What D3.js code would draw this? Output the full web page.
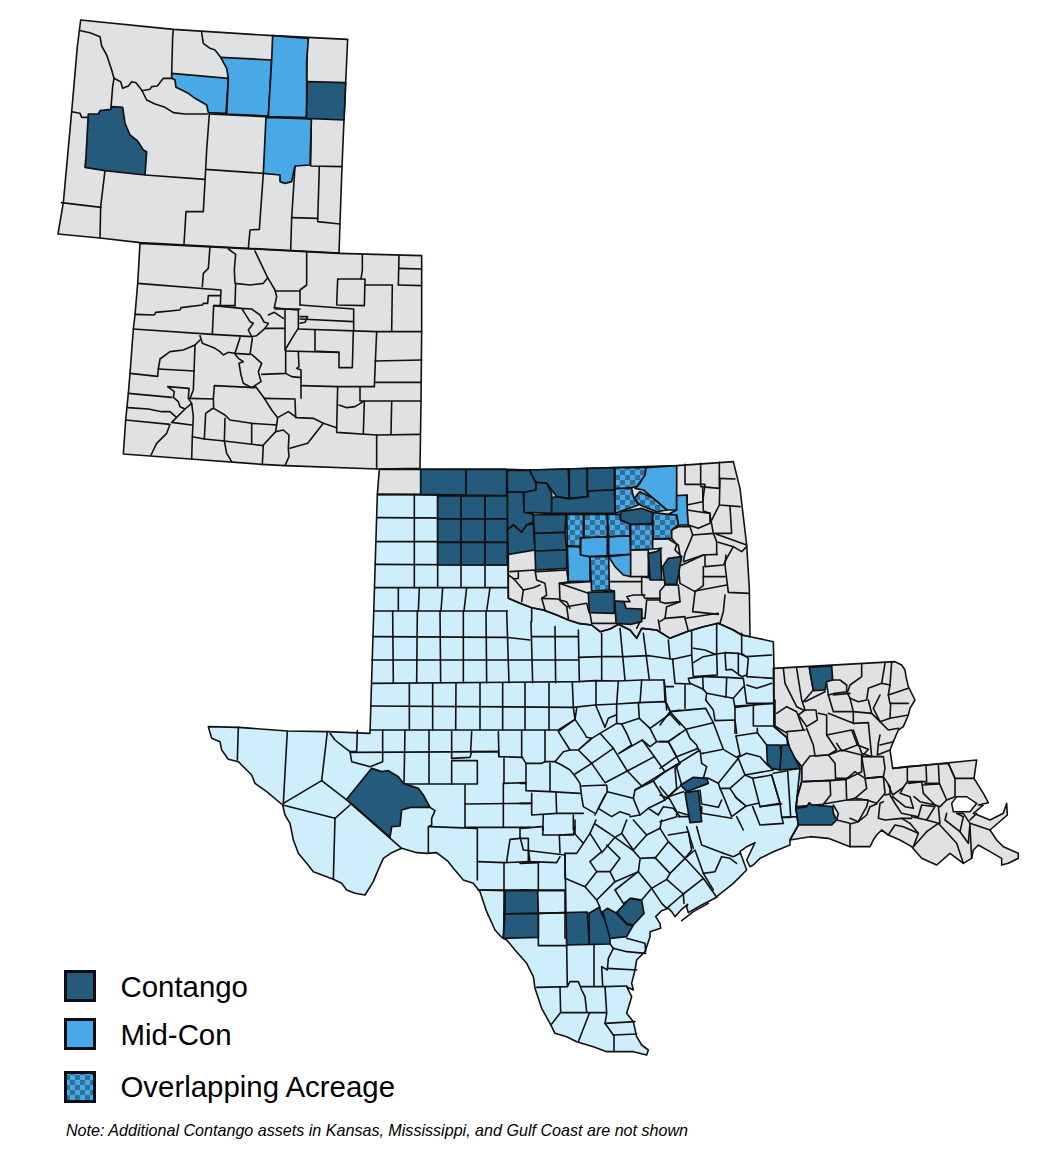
<!DOCTYPE html>
<html>
<head>
<meta charset="utf-8">
<title>Contango and Mid-Con acreage map</title>
<script src="https://cdn.jsdelivr.net/npm/d3@7"></script>
<style>
html, body { margin: 0; padding: 0; background: #fff; }
svg { display: block; }
text { font-family: "Liberation Sans", Arial, sans-serif; fill: #000; }
</style>
</head>
<body>
<svg id="map"></svg>
<script>
var canvas_width = 1048;
var canvas_height = 1152;

// every traced sheet has its own origin, points are in 1/3 pixel units
var sheet_origin = {
    wy: [50, 10], co: [115, 235], ok: [370, 455], nt: [360, 620],
    wt: [200, 720], et: [520, 720], st: [470, 880], la: [770, 650],
    c1: [520, 700], c2: [660, 700], c3: [560, 820]
};

var legend_labels = ["Contango", "Mid-Con", "Overlapping Acreage"];
var legend_keys = ["contango", "midcon", "overlap"];
var note_text = "Note: Additional Contango assets in Kansas, Mississippi, and Gulf Coast are not shown";

var colour = {
    state: "#e0e1e3", texas: "#cfeefc",
    contango: "#245b7c", midcon: "#49a9e6", overlap: "url(#checker)"
};

var wyoming_outline = [["wy", [[92,30],[370,58],[668,77],[893,88],[887,218],[882,330],[876,470],[870,640],[867,729],[270,698],[150,684],[24,672],[40,578],[65,305],[82,110]]]];
var colorado_outline = [["co", [[75,25],[672,55],[920,62],[920,290],[918,500],[915,700],[785,702],[510,692],[440,688],[225,672],[25,657],[32,555],[40,475],[45,415],[55,282],[60,240],[68,145]]]];
var oklahoma_outline = [["ok", [[28,43],[152,43],[410,43],[480,45],[590,42],[735,38],[920,32],[1090,20],[1110,100],[1130,270],[1138,400],[1140,545],[1115,540],[1090,525],[1045,505],[1000,515],[950,530],[900,550],[860,525],[815,520],[800,550],[780,525],[745,508],[720,522],[690,530],[665,510],[625,505],[595,495],[560,480],[520,465],[485,458],[450,445],[415,430],[415,295],[412,122],[152,118],[22,118]]]];
var texas_outline = [
    ["ok", [[22,118],[412,122],[415,430],[450,445],[485,458],[520,465],[560,480],[595,495],[625,505],[665,510],[690,530],[720,522],[745,508],[780,525],[800,550],[815,520],[860,525],[900,550],[950,530],[1000,515],[1045,505],[1090,525],[1115,540],[1140,545]]],
    ["la", [[10,-25],[12,55],[12,230],[50,262],[55,280],[62,310],[95,350],[95,395],[82,440],[78,475],[85,525],[60,570]]],
    ["et", [[810,375],[760,395],[720,415],[700,435],[690,440],[680,420],[705,368],[680,380],[660,395],[680,450],[640,490],[590,530]]],
    ["c3", [[470,232],[425,255],[385,278],[380,262],[383,253],[365,268],[345,290],[335,275],[325,265],[305,272],[287,290],[300,310],[302,325],[270,335]]],
    ["st", [[540,170],[525,215],[500,240],[495,270],[485,310],[490,330],[470,320],[485,350],[470,400],[490,425],[500,470],[515,495],[535,510],[530,525],[490,515],[460,515],[410,515],[370,500],[320,485],[290,470],[255,460],[240,430],[215,385],[195,325],[190,290],[170,250],[135,210],[110,180],[95,172]]],
    ["wt", [[885,630],[860,575],[840,515],[820,490],[790,480],[760,445],[745,425],[710,398],[680,400],[650,398],[605,385],[575,398],[550,415],[530,460],[520,485],[495,525],[465,520],[440,510],[425,490],[400,478],[340,455],[320,430],[295,400],[280,360],[270,310],[255,285],[248,255],[200,215],[165,190],[155,165],[115,125],[85,118],[65,90],[60,65],[35,55],[25,20],[115,22],[262,33],[382,35],[510,40]]]
];
var louisiana_outline = [["la", [[10,55],[375,35],[395,45],[405,60],[408,80],[415,110],[435,150],[420,175],[415,195],[400,230],[385,240],[370,275],[360,300],[368,355],[620,330],[612,385],[640,430],[655,458],[625,465],[640,465],[610,490],[660,510],[700,490],[710,460],[712,495],[660,540],[680,570],[700,590],[745,610],[745,625],[715,640],[695,645],[695,625],[660,605],[625,585],[610,600],[605,625],[580,640],[540,610],[500,645],[455,625],[425,590],[390,570],[355,555],[335,540],[320,555],[310,570],[300,590],[240,590],[175,565],[120,560],[60,570],[85,525],[78,475],[82,440],[95,395],[95,350],[62,310],[55,280],[50,262],[12,230]]]];
var lake_outline = [["la", [[545,460],[560,440],[590,440],[620,460],[600,485],[550,485]]]];

var wyoming_borders = [[[92,62],[120,68],[150,80],[155,108],[170,135],[185,180],[192,205],[188,230],[183,292]],[[192,205],[212,215],[218,235],[235,228],[245,215],[258,218],[275,240],[290,270],[315,282],[345,292],[370,308],[405,312],[472,312]],[[65,305],[90,310],[95,322],[115,322]],[[370,58],[368,80],[365,190]],[[275,242],[300,238],[305,230],[322,228],[340,205],[365,205]],[[455,68],[460,100],[480,115],[495,120],[512,142]],[[784,327],[782,468],[876,470]],[[478,312],[470,420],[467,478],[640,490]],[[467,478],[460,605],[408,605],[402,702]],[[285,495],[465,508]],[[165,482],[152,590],[150,684]],[[34,578],[153,592]],[[640,490],[628,658],[600,660],[595,715]],[[735,468],[725,625],[722,720]],[[808,470],[803,635],[870,642]],[[725,623],[803,625]],[[478,312],[648,320]],[[772,85],[770,215]]];

var colorado_borders = [[[285,35],[280,100],[265,115],[262,155]],[[68,145],[318,165],[316,210]],[[340,42],[362,58],[358,105],[360,145],[405,150],[445,145],[458,128],[480,165],[485,185],[478,218]],[[420,48],[435,80],[458,128]],[[362,145],[360,212]],[[575,52],[575,150],[555,165],[555,210]],[[480,168],[555,168]],[[742,58],[742,105],[738,132]],[[852,62],[850,150]],[[852,100],[920,102]],[[668,132],[750,132],[748,212],[665,210],[668,132]],[[750,150],[832,150],[830,288]],[[850,150],[920,152]],[[555,210],[716,222],[716,288]],[[480,222],[555,222]],[[60,238],[118,240],[122,232],[195,225],[198,218],[262,210],[265,205],[278,205],[280,182],[316,182]],[[55,282],[292,298],[296,212],[380,220],[405,260],[415,265],[400,285],[410,305],[425,302],[450,280],[460,265],[448,262],[435,240],[410,222],[380,220]],[[296,212],[360,212]],[[478,218],[510,222]],[[460,240],[478,232],[505,250]],[[510,222],[510,345],[540,295],[550,280],[550,225],[510,222]],[[555,245],[578,245],[570,262],[555,265]],[[555,252],[715,260]],[[550,282],[785,290],[782,358],[778,455]],[[600,285],[600,348],[672,352],[672,398],[712,398],[715,288]],[[512,348],[672,352]],[[450,280],[510,280]],[[255,302],[262,325],[300,340],[315,350],[325,360],[340,352],[358,355],[405,358],[412,310]],[[292,298],[410,305]],[[375,308],[360,355]],[[410,358],[440,385],[430,410],[438,440],[410,458],[385,445],[378,420],[372,385],[385,380],[370,370],[358,355]],[[512,345],[512,415],[440,418]],[[512,415],[530,425],[558,428]],[[550,352],[552,395],[545,400],[558,405],[558,490]],[[420,452],[448,490],[470,525],[488,548],[520,530],[545,548],[595,550],[625,565],[665,578],[665,592],[785,600],[785,702]],[[558,452],[668,455],[665,578]],[[668,455],[778,455]],[[780,378],[920,375]],[[780,442],[918,442]],[[735,458],[735,498],[918,498]],[[672,510],[695,518],[720,515],[745,500]],[[748,500],[745,595]],[[830,500],[828,597]],[[785,600],[915,598]],[[785,290],[920,290]],[[448,490],[540,492],[542,548]],[[625,565],[578,625],[525,640]],[[488,548],[482,590],[445,630],[442,688]],[[482,590],[505,585],[522,600],[520,640],[522,665],[510,692]],[[255,315],[240,330],[205,345],[165,350],[135,372],[130,402],[128,424],[45,415]],[[240,330],[235,465],[225,490]],[[130,402],[238,408]],[[40,475],[170,487]],[[158,455],[222,460],[220,490],[230,505],[210,522],[195,515],[190,500],[175,487],[178,470],[158,455]],[[222,490],[295,492],[298,452],[420,458]],[[295,492],[296,520],[330,540],[345,555],[410,565],[485,570]],[[38,518],[100,522],[140,530],[165,530],[182,545]],[[32,555],[165,568],[155,595],[125,625],[108,660]],[[210,522],[170,562],[230,570]],[[230,505],[235,545],[232,605],[230,672]],[[232,605],[268,612],[272,535],[290,522],[296,520]],[[268,612],[328,618],[330,550]],[[328,618],[335,655],[350,680]],[[328,618],[445,632]],[[410,565],[410,625]]];

var oklahoma_borders = [[[945,28],[945,88],[1005,88],[998,140],[950,150],[952,120]],[[992,25],[992,95],[1048,100],[1048,22]],[[1048,70],[1095,72]],[[1050,72],[1048,150],[1110,155]],[[998,100],[1000,168],[1020,175],[1020,200]],[[952,165],[985,170],[1020,175]],[[955,210],[985,220],[1020,205],[1048,150]],[[1020,180],[1030,235],[1085,235],[1080,155]],[[905,225],[925,215],[960,215],[968,240],[1030,235],[1040,260],[1040,300]],[[905,250],[920,268],[915,285],[935,305]],[[968,240],[960,260],[945,295],[940,320],[1000,300],[1042,298]],[[1040,238],[1130,270]],[[1045,262],[1090,275],[1115,290],[1130,275]],[[1090,275],[1070,310],[1060,330],[1005,335],[1005,300]],[[1000,335],[1000,392],[975,410],[930,385],[925,335],[1000,300]],[[1068,300],[1065,330],[1075,412],[1138,415]],[[1000,365],[1065,365]],[[975,412],[968,470],[1045,478]],[[975,408],[1070,390]],[[1065,420],[1060,470],[1050,505]],[[945,490],[1045,475]],[[945,490],[955,528]],[[885,390],[925,390],[930,440],[885,445],[870,440],[870,408],[885,390]],[[930,440],[890,455],[885,490],[870,500]],[[870,435],[830,435],[825,490],[815,490]],[[885,490],[945,485]],[[865,495],[870,525]],[[815,365],[880,375]],[[870,430],[825,430],[815,415],[815,365]],[[720,380],[815,380]],[[784,285],[835,285],[835,365],[784,365]],[[848,252],[895,252],[925,270],[930,300]],[[850,282],[875,280]],[[720,405],[733,408],[733,440],[780,440],[770,425],[790,420],[825,420]],[[815,462],[815,490],[800,520]],[[655,415],[568,385],[570,435],[590,440],[600,460]],[[568,385],[660,380]],[[590,455],[650,445],[657,470]],[[660,475],[665,505],[735,505]],[[420,350],[495,345],[500,375],[525,385],[530,420],[515,430],[525,465]],[[415,360],[430,370],[460,405],[490,398],[510,390]],[[430,372],[445,370],[445,350]],[[460,405],[455,440]],[[500,350],[590,345],[595,380],[570,385]],[[515,430],[565,432],[590,455],[595,490]]];

var texas_borders_ok = [[[22,188],[412,190]],[[20,260],[415,260]],[[16,328],[415,330]],[[15,398],[415,398]],[[13,468],[412,468]],[[133,118],[133,398]],[[203,118],[203,398]],[[273,118],[273,398]],[[345,118],[345,398]],[[85,398],[85,468]],[[148,398],[145,468]],[[218,398],[213,468]],[[290,398],[282,468]],[[360,398],[350,468]],[[485,458],[485,500]]];

var texas_borders_nt = [[[40,50],[440,52],[510,60]],[[515,50],[655,50]],[[36,120],[655,120]],[[655,112],[725,110],[795,110],[868,107],[938,118]],[[36,190],[655,185],[705,182],[775,183],[845,180],[912,180]],[[98,-27],[100,188]],[[172,-27],[170,188]],[[240,-27],[242,188]],[[310,-27],[310,188]],[[378,-27],[380,188]],[[440,-27],[447,188]],[[513,5],[518,188]],[[585,20],[587,188]],[[655,30],[658,185]],[[725,40],[725,180]],[[780,25],[795,180]],[[850,40],[868,180]],[[148,190],[148,330]],[[218,190],[218,330]],[[288,190],[287,330]],[[360,190],[360,330]],[[428,190],[428,330]],[[495,190],[495,330]],[[567,190],[567,330]],[[637,188],[640,262]],[[708,182],[708,258]],[[775,183],[770,252]],[[845,180],[840,248]],[[912,180],[915,245]],[[32,258],[640,262],[705,255],[770,252],[835,248],[915,245],[930,272]],[[30,330],[595,330],[645,298],[640,262]],[[925,60],[930,115]],[[938,118],[995,105],[1000,170],[1070,165]],[[995,35],[995,105]],[[1070,10],[1070,100],[1072,165]],[[1000,85],[1035,90],[1065,103],[1095,98],[1135,100],[1160,110],[1235,105]],[[1000,128],[1030,110],[1068,103]],[[1095,98],[1098,150],[1115,148],[1145,170],[1160,165]],[[1145,40],[1145,100],[1165,115],[1160,170],[1240,175]],[[1135,100],[1135,165]],[[938,118],[945,190],[990,192],[985,175],[1028,170],[1030,210]],[[912,180],[915,200],[940,200]],[[915,202],[920,270]],[[975,195],[975,265]],[[990,190],[1030,208],[1040,220],[1095,230]],[[1030,170],[1100,172],[1098,230]],[[1100,172],[1150,175],[1160,250],[1240,250]],[[1150,200],[1120,235],[1095,230]],[[1160,195],[1190,205],[1235,190]],[[1040,220],[1037,240]],[[1120,235],[1125,262],[1185,255]]];

var texas_borders_wt = [[[115,22],[112,120]],[[262,33],[250,250]],[[382,35],[365,182],[250,250]],[[365,182],[438,238]],[[248,255],[405,295],[450,255]],[[405,295],[400,478]],[[438,238],[605,385]],[[612,192],[830,192]],[[795,195],[795,322]],[[832,192],[832,122],[755,122],[755,192]],[[755,115],[810,112],[815,95],[895,95],[897,110],[968,112]],[[390,40],[405,60],[430,80],[450,95],[470,95],[472,32]],[[450,95],[455,125],[510,140],[548,125],[548,30]],[[450,97],[895,95]],[[615,30],[612,190]],[[687,30],[687,190]],[[755,35],[755,115]],[[815,35],[812,95]],[[895,35],[897,110]],[[912,115],[912,190],[975,188]],[[795,252],[990,250]],[[795,322],[990,322]],[[910,190],[910,322]],[[690,262],[705,272],[695,295],[695,315],[685,320],[685,400]],[[688,320],[832,325],[832,480]],[[832,425],[912,428],[912,510]],[[912,428],[990,425]],[[960,325],[960,355],[930,358],[920,425]],[[960,355],[985,355],[985,425]],[[835,510],[990,510]],[[912,510],[912,630]],[[912,582],[990,582]]];

// squares between the west block and the central counties
var texas_borders_et = [[[70,320],[68,345],[160,345],[165,320]],[[0,325],[65,320]],[[0,350],[10,390],[135,405]],[[118,345],[120,398]],[[25,388],[30,425],[110,428],[120,410]],[[0,430],[55,428]],[[55,428],[55,510],[135,510]],[[0,510],[55,510]],[[55,580],[138,578]],[[55,580],[55,655]],[[135,578],[135,655]],[[135,405],[138,578]]];

var texas_borders_c1 = [[[115,95],[165,58],[190,95],[200,112],[215,115],[175,150],[150,150],[115,95]],[[5,92],[5,170],[18,190],[40,190],[65,190],[75,185],[75,92]],[[75,185],[105,185],[130,155],[150,150]],[[175,150],[215,115],[240,100],[280,145],[215,190],[175,150]],[[240,100],[290,70],[305,72],[320,100],[335,135],[297,160]],[[297,160],[367,120],[403,170],[322,213],[280,145]],[[215,190],[255,248],[322,213]],[[165,222],[215,190]],[[105,185],[125,195],[150,210],[165,228],[180,250],[185,290],[190,320],[225,340]],[[18,190],[18,272],[90,275],[90,190]],[[90,275],[180,280]],[[35,280],[35,345],[110,340],[108,280]],[[110,340],[190,340]],[[70,345],[68,390]],[[160,345],[160,390]],[[185,258],[260,255],[262,275],[235,325],[225,345]],[[262,275],[340,295],[360,345],[330,350]],[[255,285],[235,325],[275,350],[300,335],[330,345]],[[340,295],[345,270],[400,243],[435,300],[385,325],[360,345]],[[322,213],[365,258],[345,270]],[[365,258],[435,215],[403,170]],[[400,243],[435,215]],[[367,120],[390,140],[410,125],[445,125],[480,190],[435,215]],[[305,72],[358,55],[390,85],[410,125]],[[390,85],[450,42],[480,75]],[[445,125],[480,100]],[[435,300],[470,265],[465,205],[480,190]],[[385,325],[415,345],[430,320],[460,325],[480,350]],[[228,18],[255,82],[265,55],[288,45]],[[290,12],[290,70]],[[355,8],[358,55]],[[440,10],[450,35],[480,30]],[[450,35],[450,42]],[[0,250],[18,250]],[[0,310],[35,310]],[[170,25],[165,58]]];

var texas_borders_c2 = [[[30,35],[137,25],[160,68],[78,88],[30,35]],[[137,0],[160,30],[165,62],[225,60],[230,100]],[[225,18],[225,100]],[[225,18],[280,15],[340,10]],[[0,75],[30,35]],[[78,88],[90,115],[110,135],[115,150]],[[160,68],[190,148],[130,160]],[[190,148],[230,172],[240,165],[228,108]],[[0,125],[25,125],[78,88]],[[25,125],[50,170],[115,145]],[[50,170],[0,205]],[[48,195],[120,150],[125,190],[140,200],[130,235],[145,235]],[[48,195],[65,255]],[[125,160],[130,160]],[[145,235],[175,250],[235,175]],[[228,108],[292,98],[320,135]],[[235,172],[260,160],[300,170],[322,195],[340,210],[255,225],[235,175]],[[280,15],[280,78],[345,78],[382,100],[382,135]],[[292,85],[292,98]],[[345,0],[345,78]],[[255,225],[210,265],[230,295],[258,318]],[[175,250],[180,265],[210,265]],[[278,235],[335,225],[360,310],[300,320],[278,235]],[[335,225],[360,310],[365,352],[392,352]],[[340,220],[383,212],[392,350]],[[388,210],[420,205],[408,320],[412,350],[365,352]],[[255,225],[278,235]],[[295,310],[258,318],[225,290]],[[300,320],[365,312]],[[278,320],[300,375],[370,370],[365,350]],[[258,318],[215,350],[195,300],[180,265]],[[120,270],[125,312],[175,322],[185,300]],[[125,320],[125,340],[215,355]],[[230,350],[250,390]],[[0,225],[48,195]],[[65,255],[25,290],[0,260]],[[25,290],[70,275]],[[25,290],[50,335],[85,345]],[[0,285],[25,295]],[[50,340],[50,350],[0,365]],[[85,350],[55,350]]];

var texas_borders_c3 = [[[0,45],[45,42],[45,0]],[[15,100],[50,100],[70,70],[90,40],[108,0]],[[45,42],[70,70]],[[90,40],[125,95],[90,125]],[[125,98],[165,52],[220,92]],[[105,12],[165,52],[185,40],[200,0]],[[185,40],[220,90],[260,45],[220,0]],[[260,45],[300,25],[325,65],[285,115]],[[300,25],[305,0]],[[220,92],[240,115],[285,113],[330,160],[320,178],[275,205],[235,155],[240,118]],[[90,125],[110,155],[150,155],[180,115],[140,75]],[[15,100],[15,175],[75,200],[110,155]],[[75,200],[110,240],[165,185],[150,155]],[[165,185],[235,155]],[[165,210],[190,250],[215,235],[245,240],[275,205]],[[165,210],[235,155]],[[110,240],[120,262]],[[275,205],[305,250],[320,265]],[[320,178],[370,222],[320,265]],[[370,222],[372,250]],[[330,160],[375,115],[430,175],[370,222]],[[430,175],[470,232]],[[375,115],[405,90],[430,160],[465,155],[485,110],[510,115],[530,130]],[[430,160],[460,210]],[[325,45],[385,35],[395,90],[375,115]],[[325,65],[375,115]],[[380,20],[400,85]],[[410,20],[425,75],[490,100]],[[490,100],[520,110],[540,100]],[[365,302],[400,275],[445,250]]];

var texas_borders_st = [[[25,30],[105,32],[100,175]],[[205,32],[285,32]],[[205,100],[288,98]],[[205,172],[205,197],[290,197]],[[285,32],[285,98]],[[290,195],[292,320],[200,322]],[[372,195],[372,320]],[[292,320],[300,305],[325,305],[335,330],[345,350],[350,395]],[[270,322],[272,398],[410,398],[405,320],[335,320]],[[405,320],[470,318]],[[270,400],[245,432]],[[358,400],[325,485]],[[405,430],[495,425]],[[410,400],[405,430],[430,465]],[[432,465],[432,515]],[[430,465],[500,462]],[[420,192],[430,205],[415,235],[412,270],[395,260],[398,318]],[[430,205],[470,215],[527,220]],[[412,265],[500,270]],[[470,175],[525,190],[527,215]]];

var louisiana_borders = [[[40,55],[45,100],[80,170],[100,180]],[[80,55],[95,150],[105,180]],[[118,55],[130,120],[100,155]],[[185,90],[210,90],[230,105],[230,125],[195,130],[175,135],[170,100]],[[275,42],[275,80],[240,105],[232,128],[240,145],[265,155],[290,150],[295,115],[335,100],[360,105]],[[345,40],[335,100]],[[360,105],[365,35]],[[165,125],[105,155]],[[175,135],[190,185],[250,185],[250,220],[175,190]],[[190,135],[240,130]],[[240,145],[250,185],[305,190],[295,150]],[[250,220],[295,218],[305,320],[275,310],[250,240]],[[305,190],[330,215],[355,240],[385,235]],[[360,105],[355,135],[415,115]],[[355,135],[360,160],[415,160]],[[330,135],[310,175],[330,215],[360,205],[362,160]],[[360,205],[415,195]],[[330,255],[325,280],[322,315],[360,300]],[[330,285],[370,275]],[[20,190],[50,170],[80,185],[100,240]],[[85,195],[105,180],[138,180],[142,210],[110,230],[100,215],[85,195]],[[145,190],[170,195],[170,255],[200,300],[175,315],[135,318],[130,285],[110,235]],[[50,245],[105,240]],[[170,255],[245,240],[262,285],[215,303],[200,280]],[[262,285],[295,298],[275,320],[285,380]],[[95,350],[120,318],[175,315],[195,340],[197,390],[100,395]],[[175,315],[215,300],[275,315],[275,365],[235,385],[197,385]],[[275,320],[340,320],[345,355],[340,380],[285,385]],[[100,395],[180,392],[182,435],[160,463],[80,470]],[[182,392],[228,388],[230,450],[160,462]],[[228,388],[255,365],[285,385],[290,415],[255,445],[232,450]],[[290,385],[340,380],[345,430],[320,460],[290,450],[255,445]],[[340,380],[360,410],[360,432],[345,435]],[[368,355],[412,350],[412,395],[400,412],[368,435],[355,405]],[[412,350],[468,345],[470,395],[415,395]],[[468,345],[505,342],[508,400],[465,400]],[[505,342],[535,340],[555,385],[555,440],[530,450],[508,400]],[[535,340],[555,385],[612,385]],[[415,400],[455,395],[460,430],[495,465],[450,455],[432,440]],[[460,405],[505,402]],[[530,450],[510,470],[495,465]],[[400,412],[390,430],[420,440],[430,475],[405,470],[368,440]],[[360,435],[378,465],[395,490],[445,500]],[[340,455],[330,460],[325,505],[345,510],[395,505],[425,505]],[[232,450],[295,450],[290,470],[265,515],[240,505]],[[320,462],[300,470],[290,495],[265,515],[240,522],[240,590]],[[190,465],[205,490],[200,510],[240,520]],[[445,500],[455,465],[495,470],[470,510],[425,500]],[[395,505],[420,520],[445,550],[430,590]],[[355,555],[375,525],[400,530],[445,550]],[[470,545],[505,520],[560,580],[580,640]],[[470,545],[430,590]],[[505,470],[510,520]],[[470,510],[505,520]],[[530,490],[525,510],[570,545],[580,500],[560,490]],[[560,490],[580,490],[600,520],[595,580],[570,545]],[[600,520],[660,540]],[[600,530],[605,625]],[[620,490],[600,510]]];

// highlighted counties
var contango_grid_x = [203, 273, 345, 412];
var contango_grid_y = [123, 192, 262, 330];
var contango_counties = [
    ["wy", [[115,312],[145,312],[150,302],[183,298],[183,290],[218,292],[225,340],[240,375],[262,392],[280,420],[290,425],[285,495],[165,482],[105,472],[108,440]]],
    ["wy", [[772,215],[887,218],[882,330],[769,325]]],
    ["ok", [[152,43],[288,43],[288,120],[152,118]]],
    ["ok", [[288,43],[410,43],[410,122],[288,120]]],
    ["ok", [[412,46],[480,46],[498,85],[498,105],[462,112],[412,110]]],
    ["ok", [[478,45],[595,42],[598,130],[560,125],[530,85],[498,82]]],
    ["ok", [[598,42],[652,40],[652,125],[598,130]]],
    ["ok", [[652,40],[733,38],[733,105],[652,108]]],
    ["ok", [[412,110],[460,112],[462,170],[490,178],[490,200],[470,210],[455,232],[430,210],[412,225]]],
    ["ok", [[498,82],[530,85],[545,115],[545,175],[462,172],[462,112],[498,105]]],
    ["ok", [[545,128],[560,125],[598,132],[655,125],[655,108],[733,105],[735,175],[545,175]]],
    ["ok", [[412,225],[430,210],[455,232],[470,210],[490,205],[495,285],[465,290],[415,298]]],
    ["ok", [[490,180],[588,178],[585,232],[493,235]]],
    ["ok", [[493,235],[585,232],[590,285],[495,288]]],
    ["ok", [[495,288],[590,285],[590,340],[497,345]]],
    ["ok", [[752,170],[815,160],[848,172],[845,205],[782,208],[752,195]]],
    ["ok", [[655,412],[733,410],[733,475],[658,473]]],
    ["ok", [[735,438],[762,440],[768,460],[815,462],[815,500],[782,508],[738,505]]],
    ["ok", [[835,295],[860,290],[872,280],[875,375],[840,375]]],
    ["ok", [[878,335],[895,310],[935,305],[925,360],[920,388],[885,388]]],
    ["wt", [[440,238],[515,145],[545,155],[565,152],[595,170],[610,190],[655,205],[670,225],[690,262],[632,262],[605,270],[600,318],[575,320],[570,352]]],
    ["c2", [[62,255],[100,232],[140,235],[145,250],[80,275]]],
    ["c2", [[75,278],[115,272],[125,365],[90,368]]],
    ["c2", [[320,135],[360,135],[365,165],[360,210],[335,205],[322,190]]],
    ["c2", [[365,135],[385,135],[420,205],[360,210]]],
    ["st", [[105,32],[203,32],[205,100],[105,102]]],
    ["st", [[105,102],[205,100],[205,172],[100,175]]],
    ["st", [[288,98],[352,96],[358,193],[290,195]]],
    ["st", [[357,100],[388,82],[395,100],[420,150],[420,192],[358,193]]],
    ["st", [[398,95],[412,85],[440,100],[472,135],[490,135],[470,170],[420,175]]],
    ["st", [[440,97],[480,55],[515,62],[522,100],[490,135],[470,130]]],
    ["la", [[118,52],[185,48],[188,90],[170,95],[165,120],[130,122]]],
    ["la", [[78,475],[110,470],[118,458],[125,465],[188,470],[190,490],[200,510],[185,525],[85,525]]]
];
var midcon_counties = [
    ["wy", [[365,190],[535,205],[528,310],[475,308],[470,285],[435,265],[415,250],[395,240],[378,232],[375,210],[365,205]]],
    ["wy", [[512,142],[665,150],[655,318],[530,312],[535,205],[530,175]]],
    ["wy", [[668,77],[775,85],[770,155],[770,323],[655,320],[665,150]]],
    ["wy", [[648,322],[784,327],[780,465],[735,468],[725,515],[705,520],[690,515],[690,495],[640,490]]],
    ["ok", [[592,275],[630,275],[632,300],[660,305],[660,378],[595,380]]],
    ["ok", [[632,248],[712,245],[712,302],[660,305],[632,300]]],
    ["ok", [[716,245],[780,242],[782,298],[716,302]]],
    ["ok", [[716,305],[782,298],[782,365],[760,360],[735,335]]],
    ["ok", [[828,38],[920,32],[920,165],[890,165],[850,130],[820,105],[795,100],[810,85]]],
    ["ok", [[920,122],[950,120],[952,170],[955,210],[925,210],[920,180],[895,178],[920,165]]]
];
var overlap_counties = [
    ["ok", [[735,38],[828,38],[825,60],[800,95],[735,105]]],
    ["ok", [[735,100],[785,100],[790,125],[805,150],[735,175]]],
    ["ok", [[810,110],[850,130],[890,165],[860,170],[810,150],[792,130]]],
    ["ok", [[590,178],[640,178],[640,248],[632,248],[630,275],[592,272]]],
    ["ok", [[642,178],[712,178],[712,245],[642,248]]],
    ["ok", [[712,178],[750,178],[752,195],[780,208],[780,242],[716,245]]],
    ["ok", [[782,208],[848,208],[848,282],[782,285]]],
    ["ok", [[848,172],[895,178],[920,180],[925,210],[905,225],[905,250],[850,252]]],
    ["ok", [[660,305],[716,305],[718,405],[665,408]]]
];

let svg = d3.select("#map");
svg.attr("width", canvas_width).attr("height", canvas_height);

let defs = svg.append("defs");
let checker = defs.append("pattern")
    .attr("id", "checker")
    .attr("patternUnits", "userSpaceOnUse")
    .attr("width", 10)
    .attr("height", 10);
checker.append("rect").attr("width", 10).attr("height", 10).attr("fill", colour.midcon);
checker.selectAll(".sq")
    .data([[0, 0], [5, 5]])
    .join("rect")
    .attr("class", "sq")
    .attr("x", d => d[0])
    .attr("y", d => d[1])
    .attr("width", 5)
    .attr("height", 5)
    .attr("fill", "#2f6f98");

// one linear scale pair per traced sheet
let sheet_scale = {};
Object.keys(sheet_origin).forEach(k => {
    let o = sheet_origin[k];
    sheet_scale[k] = {
        x: d3.scaleLinear().domain([0, 3]).range([o[0], o[0] + 1]),
        y: d3.scaleLinear().domain([0, 3]).range([o[1], o[1] + 1])
    };
});

function to_page(sheet, pts){
    let s = sheet_scale[sheet];
    return pts.map(p => [s.x(p[0]), s.y(p[1])]);
}

let line = d3.line().curve(d3.curveLinear);

function ring_path(pieces){
    let pts = [];
    pieces.forEach(p => { pts = pts.concat(to_page(p[0], p[1])); });
    return line(pts) + "Z";
}

function draw_state(pieces, fill){
    svg.append("path")
        .attr("class", "state")
        .attr("d", ring_path(pieces))
        .attr("fill", fill)
        .attr("stroke", "none");
}

function draw_borders(sheet, lines){
    svg.append("g")
        .attr("class", "borders")
        .selectAll("path")
        .data(lines)
        .join("path")
        .attr("d", d => line(to_page(sheet, d)))
        .attr("fill", "none")
        .attr("stroke", "#111")
        .attr("stroke-width", 1.6)
        .attr("stroke-linejoin", "round")
        .attr("stroke-linecap", "round");
}

function draw_outline(pieces){
    svg.append("path")
        .attr("class", "outline")
        .attr("d", ring_path(pieces))
        .attr("fill", "none")
        .attr("stroke", "#111")
        .attr("stroke-width", 1.6)
        .attr("stroke-linejoin", "round");
}

function draw_counties(list, key){
    svg.append("g")
        .attr("class", "county-" + key)
        .selectAll("path")
        .data(list)
        .join("path")
        .attr("d", d => ring_path([d]))
        .attr("fill", colour[key])
        .attr("stroke", "#111")
        .attr("stroke-width", 1.7)
        .attr("stroke-linejoin", "round");
}

draw_state(wyoming_outline, colour.state);
draw_state(colorado_outline, colour.state);
draw_state(oklahoma_outline, colour.state);
draw_state(louisiana_outline, colour.state);
draw_state(texas_outline, colour.texas);

draw_borders("wy", wyoming_borders);
draw_borders("co", colorado_borders);
draw_borders("ok", oklahoma_borders);
draw_borders("ok", texas_borders_ok);
draw_borders("nt", texas_borders_nt);
draw_borders("wt", texas_borders_wt);
draw_borders("et", texas_borders_et);
draw_borders("c1", texas_borders_c1);
draw_borders("c2", texas_borders_c2);
draw_borders("c3", texas_borders_c3);
draw_borders("st", texas_borders_st);
draw_borders("la", louisiana_borders);

draw_outline(wyoming_outline);
draw_outline(colorado_outline);
draw_outline(oklahoma_outline);
draw_outline(louisiana_outline);
draw_outline(texas_outline);

// white lake in the delta
svg.append("path")
    .attr("d", ring_path(lake_outline))
    .attr("fill", "#fff")
    .attr("stroke", "#111")
    .attr("stroke-width", 1.5);

// contango block over the panhandle comes from its two grid arrays
let grid_cells = [];
d3.range(contango_grid_y.length - 1).forEach(r => {
    d3.range(contango_grid_x.length - 1).forEach(c => {
        let x0 = contango_grid_x[c], x1 = contango_grid_x[c + 1];
        let y0 = contango_grid_y[r], y1 = contango_grid_y[r + 1];
        grid_cells.push(["ok", [[x0, y0], [x1, y0], [x1, y1], [x0, y1]]]);
    });
});

draw_counties(midcon_counties, "midcon");
draw_counties(overlap_counties, "overlap");
draw_counties(contango_counties.concat(grid_cells), "contango");

// legend
let legend_base = d3.scaleOrdinal().domain(legend_keys).range([997, 1045, 1097]);
let legend_box = d3.scaleOrdinal().domain(legend_keys).range([971, 1019, 1072]);

let legend = svg.append("g").attr("class", "legend");
legend.selectAll("rect")
    .data(legend_keys)
    .join("rect")
    .attr("x", 65.5)
    .attr("y", d => legend_box(d) + 0.5)
    .attr("width", 29)
    .attr("height", 29)
    .attr("fill", d => colour[d])
    .attr("stroke", "#0a0f14")
    .attr("stroke-width", 3);
legend.selectAll("text")
    .data(legend_labels)
    .join("text")
    .attr("x", 120.5)
    .attr("y", (d, i) => legend_base(legend_keys[i]))
    .attr("font-size", 29.4)
    .text(d => d);

svg.append("text")
    .attr("x", 66)
    .attr("y", 1136)
    .attr("font-size", 16.1)
    .attr("font-style", "italic")
    .text(note_text);
</script>
</body>
</html>
